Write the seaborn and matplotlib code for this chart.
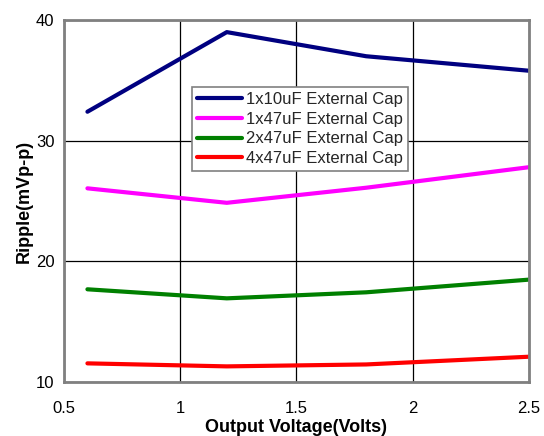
import matplotlib
matplotlib.use("Agg")
import matplotlib.pyplot as plt
import seaborn as sns
import pandas as pd

voltages = [0.6, 1.2, 1.8, 2.5]
series_names = ["1x10uF External Cap", "1x47uF External Cap",
                "2x47uF External Cap", "4x47uF External Cap"]
ripple_1x10 = [32.4, 39.0, 37.0, 35.8]
ripple_1x47 = [26.05, 24.85, 26.1, 27.8]
ripple_2x47 = [17.68, 16.93, 17.43, 18.48]
ripple_4x47 = [11.54, 11.29, 11.45, 12.09]
colors = ["#000080", "#FF00FF", "#008000", "#FF0000"]

rows = []
for name, vals in zip(series_names, [ripple_1x10, ripple_1x47, ripple_2x47, ripple_4x47]):
    for v, r in zip(voltages, vals):
        rows.append({"Output Voltage(Volts)": v, "Ripple(mVp-p)": r, "Series": name})
df = pd.DataFrame(rows)

sns.set_theme(style="white")
plt.rcParams["font.family"] = ["Liberation Sans", "DejaVu Sans"]

fig = plt.figure(figsize=(5.44, 4.36), dpi=100)
ax = fig.add_axes([0.118, 0.124, 0.854, 0.830])

sns.lineplot(data=df, x="Output Voltage(Volts)", y="Ripple(mVp-p)", hue="Series",
             palette=colors, linewidth=3, ax=ax, legend=True, sort=False)

ax.set_xlim(0.5, 2.5)
ax.set_ylim(10, 40)
ax.set_xticks([0.5, 1, 1.5, 2, 2.5])
ax.set_xticklabels(["0.5", "1", "1.5", "2", "2.5"])
ax.set_yticks([10, 20, 30, 40])
ax.grid(True, color="black", linewidth=0.9)
ax.set_axisbelow(True)
ax.tick_params(axis="both", length=0, labelsize=12, colors="black")
ax.tick_params(axis="x", pad=14)
ax.tick_params(axis="y", pad=7)
for s in ax.spines.values():
    s.set_color("#808080")
    s.set_linewidth(2)
ax.set_xlabel("Output Voltage(Volts)", fontsize=13, fontweight="bold", color="black", labelpad=2)
ax.set_ylabel("Ripple(mVp-p)", fontsize=13, fontweight="bold", color="black", labelpad=2)

leg = ax.legend(loc="upper left", bbox_to_anchor=(0.275, 0.815), fontsize=12,
                frameon=True, fancybox=False, framealpha=1, edgecolor="#808080",
                handlelength=2.7, handletextpad=0.25, borderpad=0.3, labelspacing=0.28,
                borderaxespad=0)
leg.get_frame().set_linewidth(1.2)
for line in leg.get_lines():
    line.set_linewidth(3)

fig.savefig("out.png", dpi=100)
